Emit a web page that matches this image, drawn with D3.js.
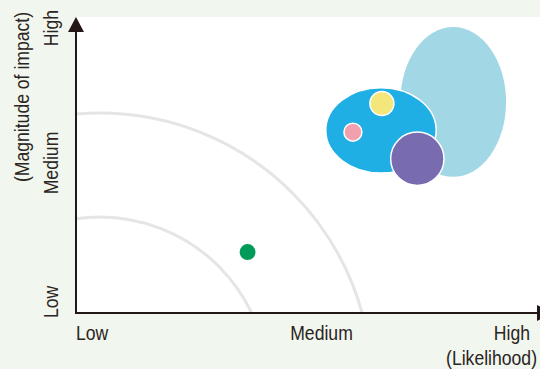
<!DOCTYPE html>
<html>
<head>
<meta charset="utf-8">
<script src="https://cdn.jsdelivr.net/npm/d3@7"></script>
<style>
  html, body { margin: 0; padding: 0; background: #f1f6ee; }
  svg { display: block; }
  text { font-family: "Liberation Sans", Arial, Helvetica, sans-serif; font-size: 20px; fill: #2a2422; }
</style>
</head>
<body>
<svg id="chart" width="540" height="369"></svg>
<script>
// Axis level labels
const xLevels = ["Low", "Medium", "High"];
const yLevels = ["Low", "Medium", "High"];
const xTitle = "(Likelihood)";
const yTitle = "(Magnitude of impact)";

// Risk ranges: centre (likelihood, impact) and spread in each direction
const rangeNames = ["Range A", "Range B"];
const rangeLikelihood = [8.20, 6.63];
const rangeImpact = [7.13, 6.17];
const rangeSpreadX = [1.15, 1.20];
const rangeSpreadY = [2.53, 1.44];
const rangeColors = ["#a2d8e5", "#1fafe5"];

// Individual risks: likelihood, impact and size
const riskNames = ["Yellow", "Pink", "Purple", "Green"];
const riskLikelihood = [6.65, 6.02, 7.42, 3.73];
const riskImpact = [7.08, 6.11, 5.21, 2.06];
const riskSize = [16, 9, 79, 7];
const riskColors = ["#f3e67a", "#f0a0ae", "#786bb0", "#009b5a"];

// Concentric zone boundaries (radius in likelihood units)
const zoneRadii = [3.65, 5.91];

(function () {
  const plotL = 76, plotR = 540, plotT = 17, plotB = 313;
  const narrow = 0.88; // condensed lettering

  const x = d3.scaleLinear().domain([0, 10]).range([plotL, 536]);
  const y = d3.scaleLinear().domain([0, 10]).range([plotB, plotT]);
  const rSize = d3.scaleSqrt().domain([0, 100]).range([0, 30]);

  const svg = d3.select("#chart");

  svg.append("defs").append("clipPath").attr("id", "plot-clip")
    .append("rect").attr("x", plotL).attr("y", plotT)
    .attr("width", plotR - plotL).attr("height", plotB - plotT);

  // white plotting area
  svg.append("rect").attr("x", plotL).attr("y", plotT)
    .attr("width", plotR - plotL).attr("height", plotB - plotT)
    .attr("fill", "#ffffff");

  // zone arcs
  const zoneCx = x(0.52), zoneCy = y(-2.43);
  svg.append("g").attr("clip-path", "url(#plot-clip)")
    .selectAll("circle").data(zoneRadii).join("circle")
    .attr("cx", zoneCx).attr("cy", zoneCy)
    .attr("r", d => x(d) - x(0))
    .attr("fill", "none").attr("stroke", "#e5e5e5").attr("stroke-width", 3);

  // ranges
  const ranges = rangeNames.map((n, i) => ({
    name: n, lx: rangeLikelihood[i], ly: rangeImpact[i],
    sx: rangeSpreadX[i], sy: rangeSpreadY[i], color: rangeColors[i]
  }));
  svg.append("g").selectAll("ellipse").data(ranges).join("ellipse")
    .attr("cx", d => x(d.lx)).attr("cy", d => y(d.ly))
    .attr("rx", d => x(d.sx) - x(0)).attr("ry", d => y(0) - y(d.sy))
    .attr("fill", d => d.color)
    .attr("stroke", (d, i) => i === 0 ? "none" : "#ffffff")
    .attr("stroke-width", 1.5);

  // risks
  const risks = riskNames.map((n, i) => ({
    name: n, lx: riskLikelihood[i], ly: riskImpact[i], s: riskSize[i], color: riskColors[i]
  }));
  svg.append("g").selectAll("circle").data(risks).join("circle")
    .attr("cx", d => x(d.lx)).attr("cy", d => y(d.ly))
    .attr("r", d => rSize(d.s))
    .attr("fill", d => d.color)
    .attr("stroke", d => d.name === "Green" ? "none" : "#ffffff")
    .attr("stroke-width", 1.5);

  // axes
  const axisColor = "#231815";
  svg.append("line").attr("x1", plotL).attr("y1", plotB).attr("x2", 540).attr("y2", plotB)
    .attr("stroke", axisColor).attr("stroke-width", 2);
  svg.append("line").attr("x1", plotL).attr("y1", plotB + 1).attr("x2", plotL).attr("y2", plotT + 10)
    .attr("stroke", axisColor).attr("stroke-width", 2);
  svg.append("path").attr("d", `M${plotL},${plotT} L${plotL + 8},${plotT + 15} L${plotL - 8},${plotT + 15} Z`)
    .attr("fill", axisColor);
  svg.append("path").attr("d", `M${plotR + 12},${plotB} L${plotR - 3},${plotB + 8} L${plotR - 3},${plotB - 8} Z`)
    .attr("fill", axisColor);

  // x level labels
  const anchors = ["start", "middle", "end"];
  const xPos = [plotL, 321.5, 530];
  svg.append("g").selectAll("text").data(xLevels).join("text")
    .attr("transform", (d, i) => `translate(${xPos[i]},340) scale(${narrow},1)`)
    .attr("text-anchor", (d, i) => anchors[i])
    .text(d => d);
  svg.append("text")
    .attr("transform", `translate(537,364.5) scale(${narrow},1)`)
    .attr("text-anchor", "end").text(xTitle);

  // y level labels (rotated)
  const yPos = [318, 163, 10];
  svg.append("g").selectAll("text").data(yLevels).join("text")
    .attr("transform", (d, i) => `translate(57.5,${yPos[i]}) rotate(-90) scale(${narrow},1)`)
    .attr("text-anchor", (d, i) => anchors[i])
    .text(d => d);
  svg.append("text")
    .attr("transform", `translate(29,97) rotate(-90) scale(${narrow},1)`)
    .attr("text-anchor", "middle").text(yTitle);
})();
</script>
</body>
</html>
